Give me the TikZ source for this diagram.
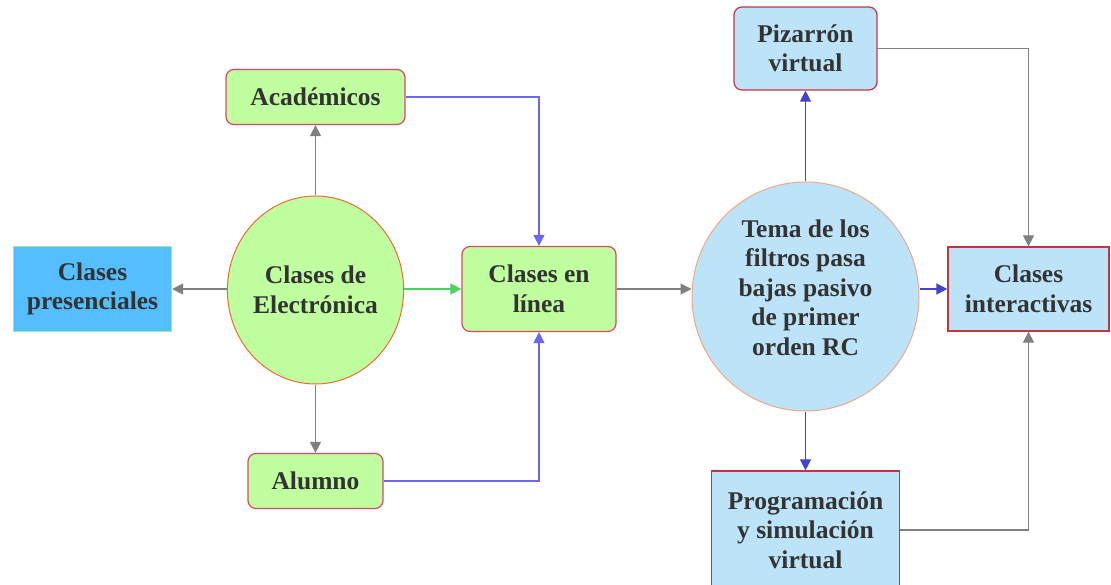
\documentclass[tikz,border=0pt]{standalone}
\usepackage{fontspec}
\setmainfont{Liberation Serif}
\usetikzlibrary{shapes.geometric,arrows.meta}
\definecolor{txt}{HTML}{333333}
\definecolor{gfill}{HTML}{BFFF9F}
\definecolor{crim}{HTML}{E04565}
\definecolor{bfill}{HTML}{BDE3F8}
\definecolor{bred}{HTML}{C03540}
\definecolor{pfill}{HTML}{55BEFF}
\definecolor{pborder}{HTML}{A0E8A0}
\definecolor{orng}{HTML}{F06A30}
\definecolor{salmon}{HTML}{F0A888}
\definecolor{garrow}{HTML}{808080}
\definecolor{lblue}{HTML}{6868F0}
\definecolor{dblue}{HTML}{4444CC}
\definecolor{grn}{HTML}{50D060}
\tikzset{
  lbl/.style={text=txt, font=\bfseries\fontsize{25.5}{29.5}\selectfont, align=center, inner sep=0pt},
  gbox/.style={lbl, draw=crim, line width=1.2pt, fill=gfill, rounded corners=8pt},
  bbox/.style={lbl, draw=bred, line width=1.2pt, fill=bfill},
  con/.style={line width=1.1pt, -{Triangle[length=11pt,width=11pt]}},
  gray con/.style={con, draw=garrow},
  lblue con/.style={con, draw=lblue},
  dblue con/.style={con, draw=dblue, line width=1.4pt},
}
\begin{document}
\begin{tikzpicture}[x=1pt,y=-1pt]
\useasboundingbox (0,0) rectangle (1111,585);
% nodes
\node[lbl, draw=pborder, line width=1.2pt, fill=pfill, minimum width=158, minimum height=85] (pres) at (92.5,289) {Clases\\presenciales};
\node[lbl, ellipse, draw=orng, line width=1pt, fill=gfill, minimum width=168, minimum height=188] (elec) at (315.5,290) {Clases de\\Electrónica};
\node[gbox, minimum width=179, minimum height=55] (acad) at (315.5,97) {Académicos};
\node[gbox, minimum width=135, minimum height=55] (alum) at (315.5,481) {Alumno};
\node[gbox, minimum width=154, minimum height=85] (linea) at (539,289) {Clases en\\línea};
\node[lbl, ellipse, draw=salmon, line width=1pt, fill=bfill, minimum width=227, minimum height=229] (tema) at (805.5,296.5) {};
\node[lbl] (tematxt) at (805.5,287.5) {Tema de los\\filtros pasa\\bajas pasivo\\de primer\\orden RC};
\node[bbox, minimum width=161, minimum height=84] (inter) at (1028.5,289) {Clases\\interactivas};
\node[bbox, rounded corners=8pt, minimum width=143, minimum height=83] (piz) at (805.5,48.5) {Pizarrón\\virtual};
\node[bbox, minimum width=188, minimum height=118] (prog) at (805.5,530) {Programación\\y simulación\\virtual};
% connectors
\draw[gray con] (elec.west |- pres.east) -- (pres.east);
\draw[gray con] (elec.north) -- (acad.south);
\draw[gray con] (elec.south) -- (alum.north);
\draw[con, draw=grn] (elec.east |- linea.west) -- (linea.west);
\draw[lblue con] (acad.east) -| (linea.north);
\draw[lblue con] (alum.east) -| (linea.south);
\draw[gray con] (linea.east) -- (linea.east -| tema.west);
\draw[dblue con] (tema.north) -- (piz.south);
\draw[dblue con] (tema.south) -- (prog.north);
\draw[dblue con] (inter.west -| tema.east) -- (inter.west);
\draw[gray con] (piz.east) -| (inter.north);
\draw[gray con] (prog.east) -| (inter.south);
\end{tikzpicture}
\end{document}
